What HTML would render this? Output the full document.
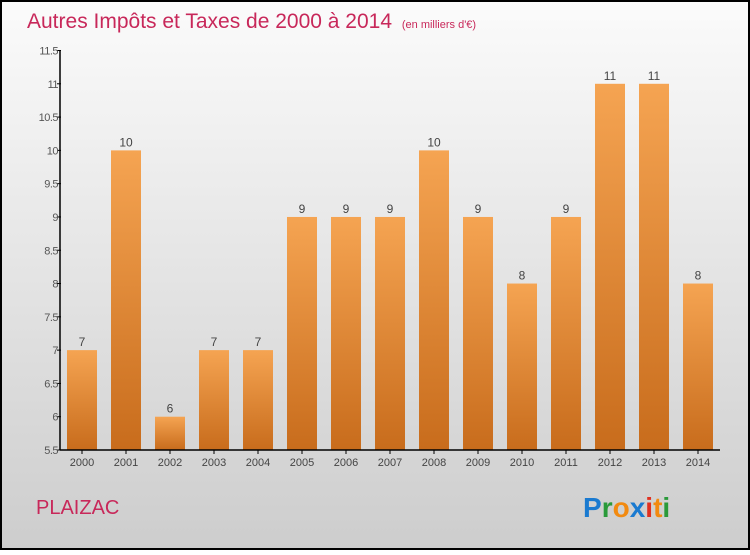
<!DOCTYPE html>
<html><head><meta charset="utf-8"><style>
body{margin:0;width:750px;height:550px;overflow:hidden;font-family:"Liberation Sans",sans-serif}
</style></head><body>
<svg width="750" height="550" xmlns="http://www.w3.org/2000/svg">
<defs>
<linearGradient id="bg" x1="0" y1="0" x2="0" y2="1"><stop offset="0" stop-color="#fbfbfb"/><stop offset="1" stop-color="#cdcdcd"/></linearGradient>
<linearGradient id="bar" x1="0" y1="0" x2="0" y2="1"><stop offset="0" stop-color="#f5a452"/><stop offset="1" stop-color="#c86c1c"/></linearGradient>
</defs>
<rect x="1" y="1" width="748" height="548" fill="url(#bg)" stroke="#000" stroke-width="2"/>
<text x="27" y="28" font-size="21" fill="#c8285a">Autres Impôts et Taxes de 2000 à 2014 <tspan font-size="11" dx="4">(en milliers d'€)</tspan></text>
<g id="yaxis"></g><g id="bars"></g><g id="xaxis"></g>
<text x="36" y="514" font-size="20" fill="#c8285a">PLAIZAC</text>
<text x="583" y="517" font-size="28" font-weight="bold"><tspan fill="#1a7ad0">P</tspan><tspan fill="#2a9a3a">r</tspan><tspan fill="#f28a10">o</tspan><tspan fill="#1a7ad0">x</tspan><tspan fill="#e03020">i</tspan><tspan fill="#f28a10">t</tspan><tspan fill="#2a9a3a">i</tspan></text>
</svg>
<script>
const categories=["2000","2001","2002","2003","2004","2005","2006","2007","2008","2009","2010","2011","2012","2013","2014"];
const values=[7,10,6,7,7,9,9,9,10,9,8,9,11,11,8];
const yTicks=[5.5,6,6.5,7,7.5,8,8.5,9,9.5,10,10.5,11,11.5];
const yTickLabels=["5.5","6","6.5","7","7.5","8","8.5","9","9.5","10","10.5","11","11.5"];
const NS="http://www.w3.org/2000/svg";
const y0=450,y1=50.5,vmin=5.5,vmax=11.5;
const yScale=v=>y0-(v-vmin)/(vmax-vmin)*(y0-y1);
const xScale=i=>67+44*i;
function mk(t,a,p){const e=document.createElementNS(NS,t);for(const k in a)e.setAttribute(k,a[k]);p.appendChild(e);return e;}
const ya=document.getElementById('yaxis'),ba=document.getElementById('bars'),xa=document.getElementById('xaxis');
let l=mk('line',{x1:60,y1:y1,x2:60,y2:y0,stroke:'#000','stroke-width':1.5},ya);


yTicks.forEach((v,i)=>{
 const y=yScale(v);
 let t=mk('line',{x1:57,y1:y,x2:61,y2:y,stroke:'#000'},ya);
 
 
 let tx=mk('text',{x:58,y:y+4,'font-size':11,fill:'#555','text-anchor':'end','letter-spacing':'-0.5'},ya);
 tx.textContent=yTickLabels[i];
 
 
});
values.forEach((v,i)=>{
 const x=xScale(i),y=yScale(v);
 let r=mk('rect',{x:x,y:y,width:30,height:y0-y,fill:'url(#bar)'},ba);
 
 
 let vt=mk('text',{x:x+15,y:y-4,'font-size':12,fill:'#444','text-anchor':'middle'},ba);
 vt.textContent=String(v);
 
 
 let ct=mk('text',{x:x+15,y:466,'font-size':11,fill:'#444','text-anchor':'middle'},xa);
 ct.textContent=categories[i];
 
 
 let tk=mk('line',{x1:x+15,y1:450,x2:x+15,y2:454,stroke:'#000'},xa);
 
 
});
let xl=mk('line',{x1:60,y1:450,x2:720,y2:450,stroke:'#000','stroke-width':1.5},xa);


</script>
</body></html>
